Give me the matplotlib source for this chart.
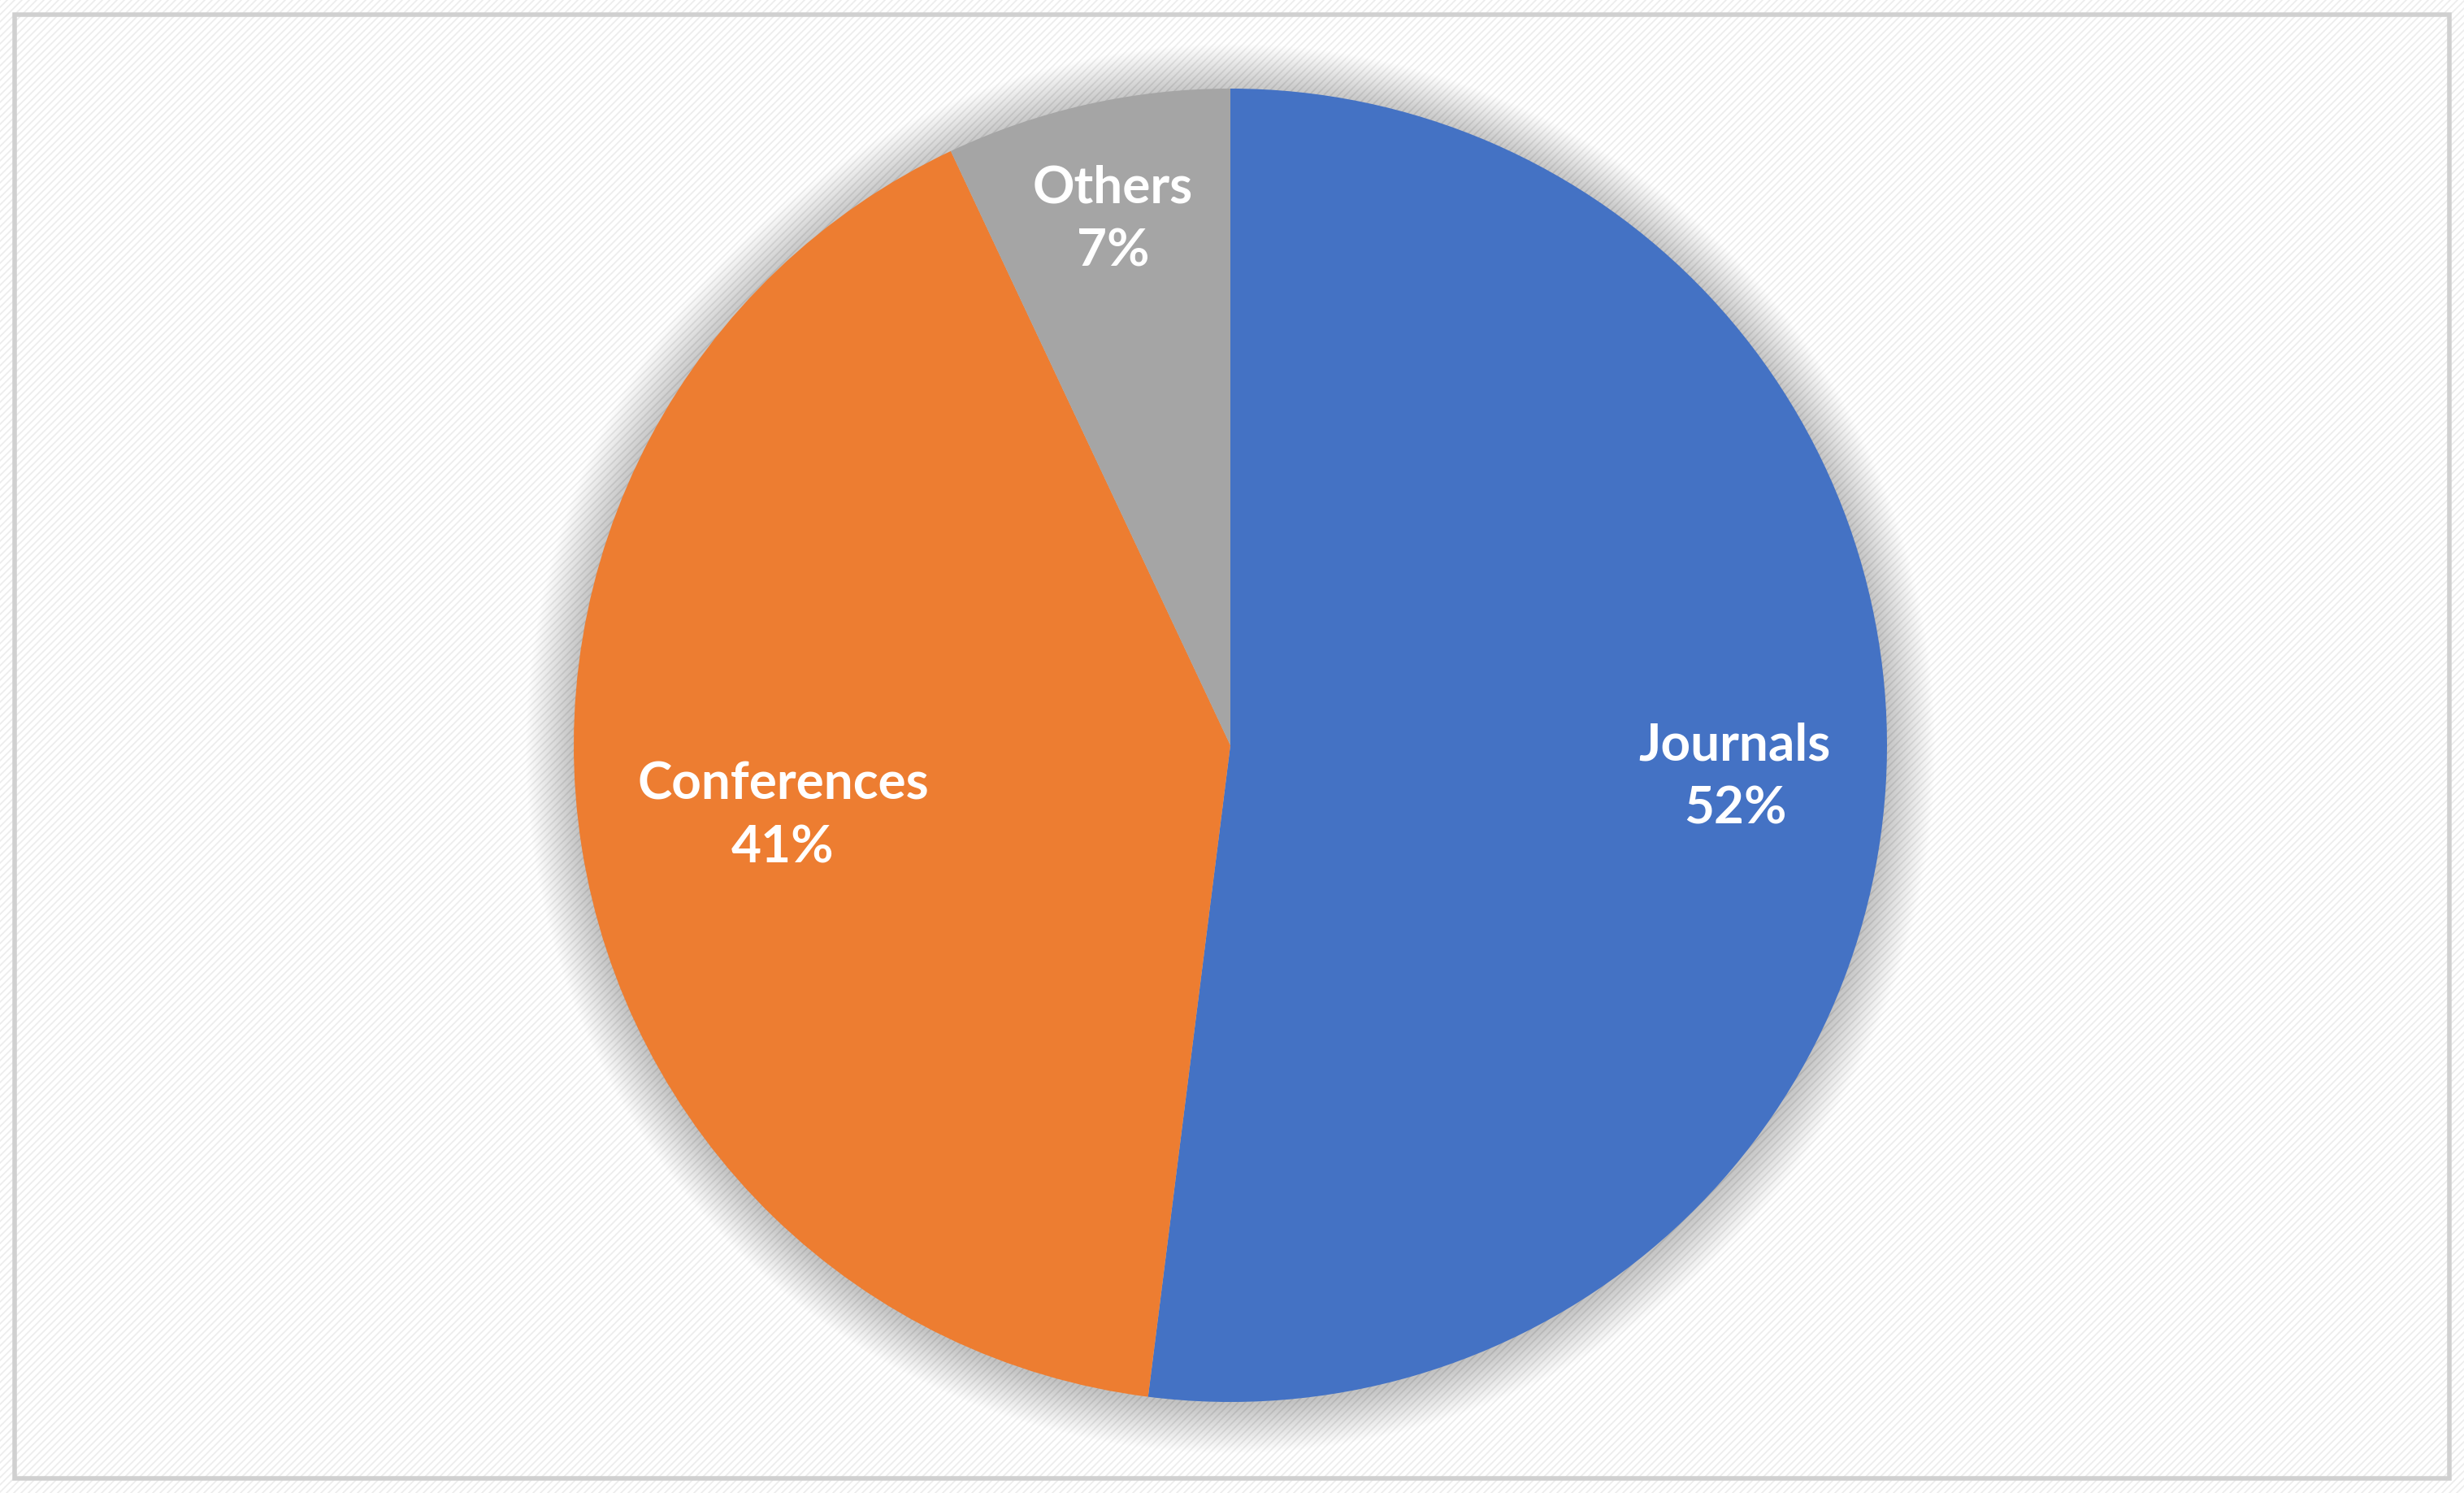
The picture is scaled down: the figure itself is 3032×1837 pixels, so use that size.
import matplotlib
matplotlib.use("Agg")
import matplotlib.pyplot as plt
import numpy as np
from matplotlib.patches import Circle, Rectangle

categories = ["Journals", "Conferences", "Others"]
values = [52, 41, 7]
colors = ["#4472C4", "#ED7D31", "#A5A5A5"]
label_dist = [0.77, 0.69, 0.82]

W, H = 3032, 1837
fig = plt.figure(figsize=(W/100, H/100), dpi=100)
fig.patch.set_facecolor("white")

bg = fig.add_axes([0, 0, 1, 1]); bg.set_xlim(0, W); bg.set_ylim(0, H); bg.axis("off")
for c in np.arange(-H, W, 9):
    bg.plot([c, c + H], [0, H], color="#ececec", lw=1.2, zorder=0)
bg.add_patch(Rectangle((18, 18), W-36, H-36, fill=False, ec="#d0d0d0", lw=4))

cx, cy, r = 1514, H - 917, 808
ax = fig.add_axes([(cx - r*1.1)/W, (cy - r*1.1)/H, 2.2*r/W, 2.2*r/H])
for i in range(30):
    ax.add_patch(Circle((0, -0.005), 1 + 0.0025*i, color="black", alpha=0.006, lw=0, zorder=0))

wedges, _ = ax.pie(values, colors=colors, startangle=90, counterclock=False,
                   radius=1, wedgeprops=dict(lw=0))
ax.set_xlim(-1.1, 1.1); ax.set_ylim(-1.1, 1.1); ax.set_aspect("equal"); ax.axis("off")
total = sum(values)
cum = 0
for name, v, d in zip(categories, values, label_dist):
    mid = np.deg2rad(90 - (cum + v/2)/total*360)
    cum += v
    ax.text(d*np.cos(mid), d*np.sin(mid), f"{name}\n{v}%", ha="center", va="center",
            color="white", fontsize=46, fontweight="bold", family="Lato", linespacing=1.45)

fig.savefig("out.png", dpi=100)
